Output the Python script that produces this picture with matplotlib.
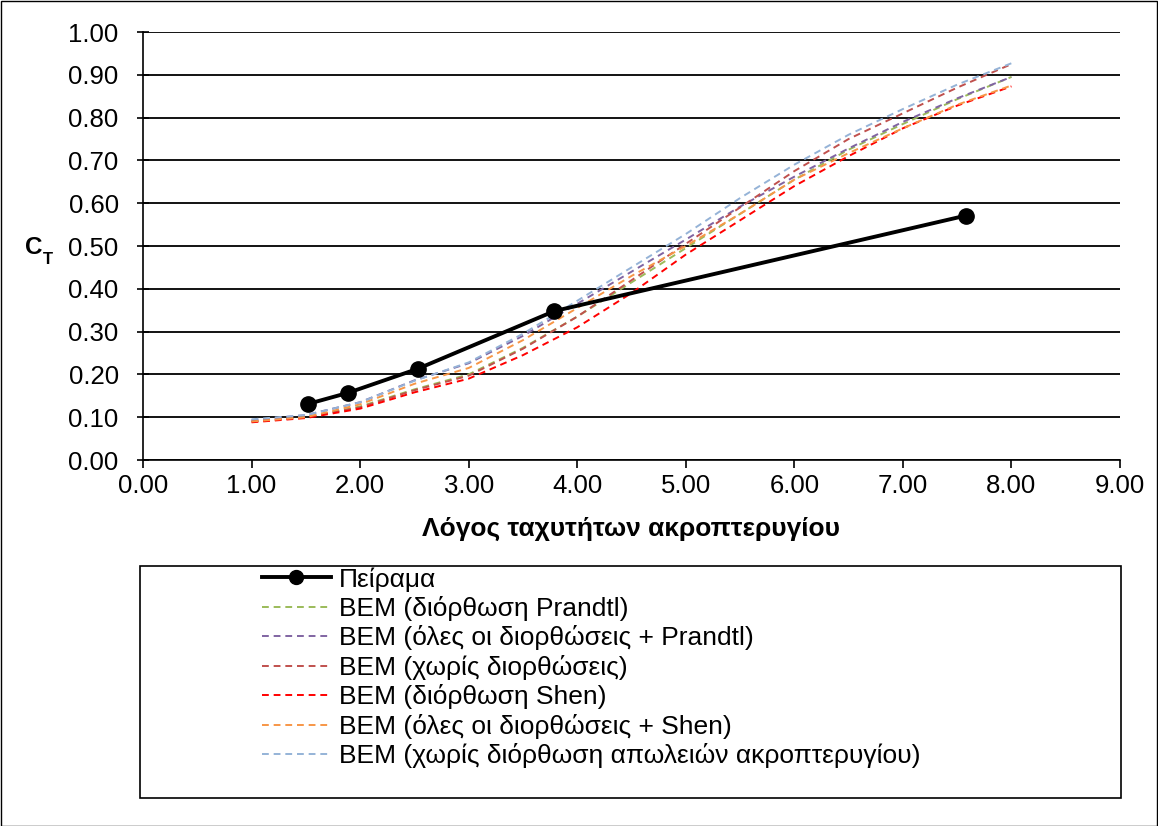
import matplotlib
matplotlib.use("Agg")
import matplotlib.pyplot as plt
import matplotlib.patches as mpatches
from matplotlib.lines import Line2D

plt.rcParams["font.family"] = ["Liberation Sans", "DejaVu Sans"]

W, H = 1158, 826

# ── Data ────────────────────────────────────────────────────────────────────
tsr_exp = [1.52, 1.89, 2.53, 3.79, 7.58]
ct_exp = [0.131, 0.157, 0.213, 0.348, 0.571]

tsr_bem = [1.0, 1.5, 2.0, 2.5, 3.0, 3.5, 4.0, 4.5, 5.0, 5.5, 6.0, 6.5, 7.0, 7.5, 8.0]
ct_prandtl = [0.090, 0.100, 0.125, 0.165, 0.200, 0.262, 0.335, 0.415, 0.495,
              0.575, 0.655, 0.725, 0.785, 0.843, 0.895]
ct_all_prandtl = [0.093, 0.105, 0.135, 0.186, 0.226, 0.290, 0.365, 0.440, 0.515,
                  0.592, 0.662, 0.728, 0.790, 0.845, 0.895]
ct_none = [0.090, 0.100, 0.123, 0.163, 0.197, 0.260, 0.335, 0.420, 0.505,
           0.590, 0.675, 0.750, 0.810, 0.870, 0.925]
ct_shen = [0.088, 0.098, 0.120, 0.158, 0.190, 0.245, 0.310, 0.390, 0.480,
           0.560, 0.640, 0.710, 0.775, 0.828, 0.873]
ct_all_shen = [0.090, 0.100, 0.130, 0.178, 0.215, 0.280, 0.355, 0.430, 0.500,
               0.575, 0.655, 0.717, 0.775, 0.830, 0.875]
ct_no_tiploss = [0.095, 0.105, 0.135, 0.185, 0.228, 0.295, 0.372, 0.450, 0.528,
                 0.612, 0.690, 0.760, 0.820, 0.877, 0.927]

labels = [
    "Πείραμα",
    "BEM (διόρθωση Prandtl)",
    "BEM (όλες οι διορθώσεις + Prandtl)",
    "BEM (χωρίς διορθώσεις)",
    "BEM (διόρθωση Shen)",
    "BEM (όλες οι διορθώσεις + Shen)",
    "BEM (χωρίς διόρθωση απωλειών ακροπτερυγίου)",
]
bem_series = [ct_prandtl, ct_all_prandtl, ct_none, ct_shen, ct_all_shen, ct_no_tiploss]
bem_colors = ["#9BBB59", "#8064A2", "#C0504D", "#FF0000", "#F79646", "#95B3D7"]

# ── Figure ──────────────────────────────────────────────────────────────────
fig = plt.figure(figsize=(W / 100, H / 100), dpi=100)
ax = fig.add_axes([143 / W, 1 - 460 / H, (1120 - 143) / W, (460 - 32) / H])

dash = (3.5, 2.5)
for ys, c in zip(bem_series, bem_colors):
    ax.plot(tsr_bem, ys, color=c, lw=1.4, dashes=dash, zorder=3)

ax.plot(tsr_exp, ct_exp, color="black", lw=2.8, marker="o", markersize=11,
        zorder=5)

ax.set_xlim(0, 9)
ax.set_ylim(0, 1)
ax.set_xticks([i for i in range(10)])
ax.set_yticks([i / 10 for i in range(11)])
ax.set_xticklabels([f"{i:.2f}" for i in range(10)], fontsize=18.5)
ax.set_yticklabels([f"{i / 10:.2f}" for i in range(11)], fontsize=18.5)
ax.tick_params(axis="y", direction="inout", length=9, width=1.2, pad=13)
ax.tick_params(axis="x", direction="out", length=6, width=1.2, pad=4)

ax.grid(axis="y", color="black", lw=1.3, zorder=1)
ax.set_axisbelow(True)
ax.spines[["top", "right"]].set_visible(False)
ax.spines[["left", "bottom"]].set_linewidth(1.2)

ax.set_xlabel("Λόγος ταχυτήτων ακροπτερυγίου", fontsize=19, fontweight="bold",
              labelpad=14)

# C_T label
fig.text(25 / W, 1 - 247 / H, "C", fontsize=17.5, fontweight="bold",
         ha="left", va="center")
fig.text(43 / W, 1 - 259 / H, "T", fontsize=12, fontweight="bold",
         ha="left", va="center")

# ── Legend ──────────────────────────────────────────────────────────────────
handles = [Line2D([], [], color="black", lw=2.8, marker="o", markersize=10)]
for c in bem_colors:
    handles.append(Line2D([], [], color=c, lw=1.4, dashes=dash))

fig.patches.append(mpatches.Rectangle((140 / W, 1 - 798 / H), (1121 - 140) / W,
                                      (798 - 566) / H, transform=fig.transFigure,
                                      fill=False, edgecolor="black", lw=1.2))
fig.legend(handles=handles, labels=labels, loc="upper left",
           bbox_to_anchor=(262 / W, 1 - 567 / H), frameon=False, fontsize=19,
           handlelength=2.6, handletextpad=0.3, labelspacing=0.17,
           borderaxespad=0, borderpad=0)

# outer border
fig.patches.append(mpatches.Rectangle((0.5 / W, 0.5 / H), (W - 1.5) / W,
                                      (H - 1.5) / H, transform=fig.transFigure,
                                      fill=False, edgecolor="black", lw=1.0))

fig.savefig("out.png", dpi=100, facecolor="white")
